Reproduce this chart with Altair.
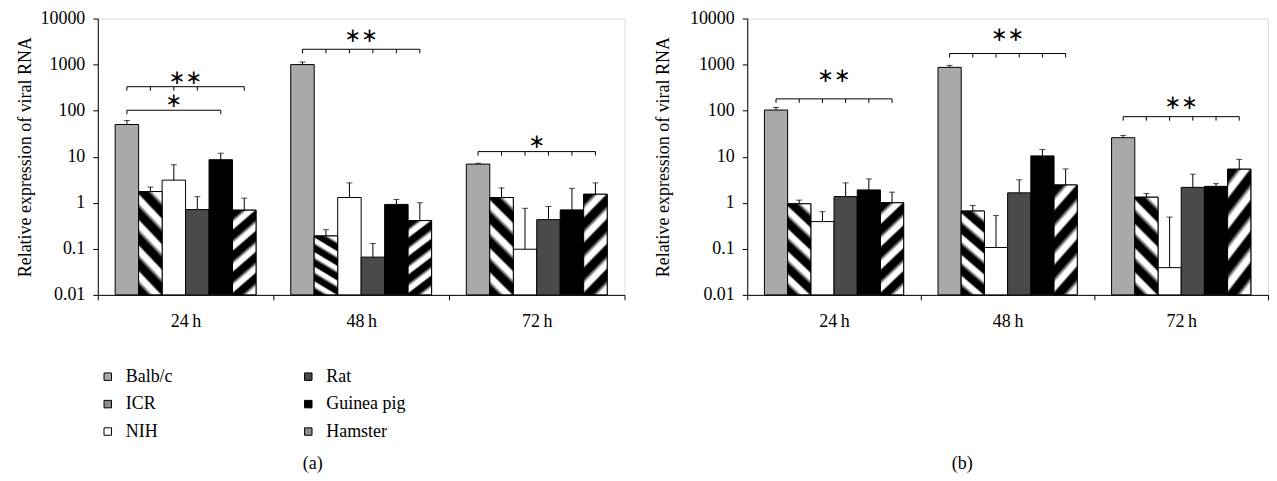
import altair as alt
import pandas as pd

# ---------------- data ----------------
groups = ["24\u2009h", "48\u2009h", "72\u2009h"]
series = ["Balb/c", "ICR", "NIH", "Rat", "Guinea pig", "Hamster"]

# panel (a): mean relative expression per group (order = series)
a_mean_24 = [50, 1.75, 3.1, 0.71, 8.6, 0.69]
a_mean_48 = [1000, 0.19, 1.3, 0.066, 0.92, 0.41]
a_mean_72 = [6.9, 1.3, 0.098, 0.43, 0.70, 1.53]
# panel (a): upper error (SD)
a_sd_24 = [11, 0.45, 3.6, 0.65, 3.3, 0.57]
a_sd_48 = [140, 0.07, 1.4, 0.064, 0.26, 0.59]
a_sd_72 = [0.3, 0.8, 0.66, 0.40, 1.36, 1.17]

# panel (b)
b_mean_24 = [103, 0.95, 0.39, 1.36, 1.9, 1.0]
b_mean_48 = [870, 0.66, 0.107, 1.64, 10.4, 2.43]
b_mean_72 = [25.9, 1.32, 0.039, 2.16, 2.27, 5.35]
b_sd_24 = [14, 0.19, 0.25, 1.34, 1.4, 0.7]
b_sd_48 = [90, 0.21, 0.42, 1.51, 3.9, 3.0]
b_sd_72 = [3.1, 0.26, 0.45, 2.0, 0.33, 3.4]

# significance brackets: group, label, bracket level, label level, series indices with ticks
a_brackets = [
    ("24\u2009h", "\u2217\u2217", 331, 515, [0, 1, 2, 3, 5]),
    ("24\u2009h", "\u2217", 102, 158, [0, 4]),
    ("48\u2009h", "\u2217\u2217", 2150, 4270, [0, 1, 2, 3, 4, 5]),
    ("72\u2009h", "\u2217", 12.9, 21, [0, 1, 2, 3, 4, 5]),
]
b_brackets = [
    ("24\u2009h", "\u2217\u2217", 180, 560, [0, 1, 2, 3, 4, 5]),
    ("48\u2009h", "\u2217\u2217", 1740, 4400, [0, 1, 2, 3, 4, 5]),
    ("72\u2009h", "\u2217\u2217", 74, 147, [0, 1, 2, 3, 4, 5]),
]

y_ticks = [0.01, 0.1, 1, 10, 100, 1000, 10000]

# ---------------- styling / layout ----------------
SERIF = "Liberation Serif"
fills = {"Balb/c": "#a9a9a9", "ICR": "#8c8c8c", "NIH": "#ffffff",
         "Rat": "#4a4a4a", "Guinea pig": "#000000", "Hamster": "#8c8c8c"}
PAD = 0.74                   # outer padding of a group, in bar widths
GW = len(series) + 2 * PAD   # group width in bar widths
H = 277
TICKLEN = 10 ** (-4 / 46.0)  # bracket tick length factor on log scale


def stripes(direction, n=5):
    stops = []
    e = 0.12 / n
    for k in range(n):
        a, b, c = k / n, (k + 0.5) / n, (k + 1) / n
        stops += [alt.GradientStop(color="#000000", offset=max(a, 0)),
                  alt.GradientStop(color="#000000", offset=b - e),
                  alt.GradientStop(color="#ffffff", offset=b + e),
                  alt.GradientStop(color="#ffffff", offset=min(c - e, 1))]
    if direction == "back":   # "\" stripes
        return alt.LinearGradient(gradient="linear", stops=stops, x1=0, y1=1, x2=0.281, y2=-0.172)
    return alt.LinearGradient(gradient="linear", stops=stops, x1=0, y1=0, x2=0.281, y2=1.172)


def build_frames(means, sds, brackets):
    rows = []
    for gi, g in enumerate(groups):
        for si, s in enumerate(series):
            m = means[gi][si]
            x0 = gi * GW + PAD + si
            rows.append(dict(group=g, series=s, mean=m, upper=m + sds[gi][si], base=0.01,
                             x0=x0, x1=x0 + 1, xc=x0 + 0.5))
    bars = pd.DataFrame(rows)
    hl, tk, lb = [], [], []
    for g, label, lev, lab_lev, idx in brackets:
        gi = groups.index(g)
        centers = [gi * GW + PAD + i + 0.5 for i in idx]
        hl.append(dict(xa=centers[0], xb=centers[-1], lev=lev))
        for c in centers:
            tk.append(dict(xc=c, lev=lev, low=lev * TICKLEN))
        lb.append(dict(xm=(centers[0] + centers[-1]) / 2, lev=lab_lev, label=label))
    return bars, pd.DataFrame(hl), pd.DataFrame(tk), pd.DataFrame(lb)


def panel(means, sds, brackets, caption, legend, title_pad, W):
    bars, hl, tk, lb = build_frames(means, sds, brackets)
    xs = alt.Scale(domain=[0, 3 * GW], nice=False, zero=False)
    ys = alt.Scale(type="log", domain=[0.01, 10000], nice=False)
    xband = alt.Scale(domain=groups, paddingInner=0, paddingOuter=0)
    xaxis = alt.Axis(tickBand="extent", tickSize=5, title=caption, titleFont=SERIF, titleFontSize=18,
                     titleFontWeight="normal", titleColor="black", titlePadding=124, titleX=215,
                     grid=False, labelPadding=13, labelFont=SERIF, labelFontSize=18, labelColor="black",
                     labelAngle=0, domainColor="black", tickColor="black")
    yaxis = alt.Axis(values=y_ticks, format="~g", title="Relative expression of viral RNA",
                     grid=False, tickSize=5, labelPadding=8, labelFont=SERIF, labelFontSize=18,
                     labelColor="black", titleFont=SERIF, titleFontSize=18, titleFontWeight="normal",
                     titleColor="black", titlePadding=title_pad, domainColor="black", tickColor="black")
    leg = None
    if legend:
        leg = alt.Legend(orient="none", legendX=1, legendY=350, columns=2, columnPadding=127,
                         rowPadding=9.5, title=None, symbolType="square", symbolSize=56,
                         symbolStrokeColor="black", symbolStrokeWidth=1, labelFont=SERIF,
                         labelFontSize=18, labelColor="black", labelOffset=9)
    color = alt.Color("series:N", sort=series, scale=alt.Scale(domain=series,
                                                             range=[fills[s] for s in series]), legend=leg)
    base = alt.Chart(bars)
    cats = base.mark_point(opacity=0).encode(x=alt.X("group:N", sort=groups, scale=xband, axis=xaxis))
    bar = base.mark_bar(stroke="black", strokeWidth=1).encode(
        x=alt.X("x0:Q", scale=xs, axis=None), x2="x1",
        y=alt.Y("mean:Q", scale=ys, axis=yaxis), y2="base", color=color)
    icr = base.transform_filter(alt.datum.series == "ICR").mark_bar(
        stroke="black", strokeWidth=1, fill=stripes("back")).encode(
        x=alt.X("x0:Q", scale=xs, axis=None), x2="x1", y="mean:Q", y2="base")
    ham = base.transform_filter(alt.datum.series == "Hamster").mark_bar(
        stroke="black", strokeWidth=1, fill=stripes("fwd")).encode(
        x=alt.X("x0:Q", scale=xs, axis=None), x2="x1", y="mean:Q", y2="base")
    err = base.mark_rule(color="black", strokeWidth=1).encode(
        x=alt.X("xc:Q", scale=xs, axis=None), y="mean:Q", y2="upper")
    cap = base.mark_tick(color="black", thickness=1, size=6, orient="horizontal").encode(
        x=alt.X("xc:Q", scale=xs, axis=None), y="upper:Q")
    hline = alt.Chart(hl).mark_rule(color="black", strokeWidth=1).encode(
        x=alt.X("xa:Q", scale=xs, axis=None), x2="xb", y="lev:Q")
    tick = alt.Chart(tk).mark_rule(color="black", strokeWidth=1).encode(
        x=alt.X("xc:Q", scale=xs, axis=None), y="lev:Q", y2="low")
    star = alt.Chart(lb).mark_text(font="DejaVu Sans", fontSize=20, color="black", baseline="middle").encode(
        x=alt.X("xm:Q", scale=xs, axis=None), y="lev:Q", text="label:N")
    return alt.layer(cats, bar, icr, ham, err, cap, hline, tick, star).resolve_scale(
        x="independent").properties(width=W, height=H)


pa = panel([a_mean_24, a_mean_48, a_mean_72], [a_sd_24, a_sd_48, a_sd_72], a_brackets, "(a)", True, 5, 528)
pb = panel([b_mean_24, b_mean_48, b_mean_72], [b_sd_24, b_sd_48, b_sd_72], b_brackets, "(b)", False, 17, 522)

chart = alt.hconcat(pa, pb, spacing=28).resolve_scale(color="independent").properties(
    padding={"left": 8, "top": 0, "right": 0, "bottom": 0}
).configure_view(stroke="black", strokeWidth=1).configure(background="white")

chart.save("out.html", embed_options={"renderer": "svg", "actions": False})
